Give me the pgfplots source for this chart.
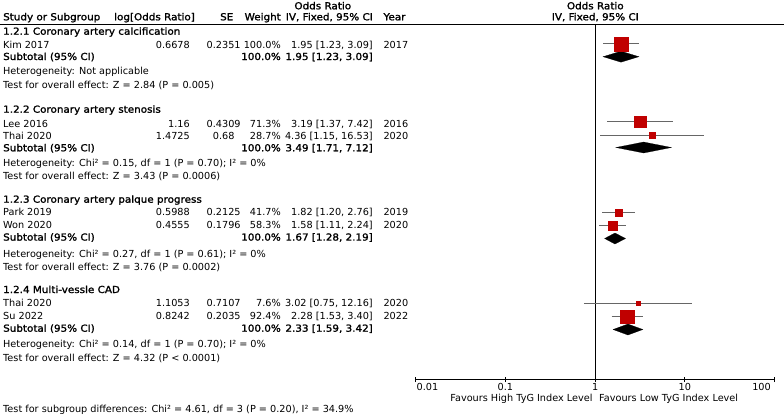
\documentclass[border=0pt]{standalone}
\usepackage{pgfplots}
\pgfplotsset{compat=1.18}
\usepackage{fontspec}
\setmainfont{DejaVu Sans}[BoldFont={DejaVu Sans}, BoldFeatures={FakeBold=1.6, FakeStretch=1.07}]
\definecolor{sqred}{RGB}{192,0,0}
\begin{document}
\fontsize{9.7}{11}\selectfont
\begin{tikzpicture}
\path[use as bounding box] (0pt,0pt) rectangle (784pt,-415pt);
\begin{axis}[at={(415.7pt,0pt)}, anchor=north west, scale only axis,
  width=358.6pt, height=379.5pt,
  xmode=log, xmin=0.01, xmax=100, ymin=0, ymax=379.5, y dir=reverse,
  axis x line=bottom, axis y line=none, axis line style={-, black, line width=0.6pt},
  xtick={0.01,0.1,1,10,100}, xticklabels={}, xminorticks=false,
  tick align=center, major tick length=5pt, tick style={black, line width=0.6pt},
  clip=false]
% line of no effect
\addplot[black, line width=0.6pt] coordinates {(1,24) (1,379.5)};
% confidence intervals
\addplot[black!60, line width=0.7pt] coordinates {(1.23,43.7) (3.09,43.7)};
\addplot[black!60, line width=0.7pt] coordinates {(1.37,121.7) (7.42,121.7)};
\addplot[black!60, line width=0.7pt] coordinates {(1.15,135) (16.53,135)};
\addplot[black!60, line width=0.7pt] coordinates {(1.20,212.3) (2.76,212.3)};
\addplot[black!60, line width=0.7pt] coordinates {(1.11,225.7) (2.24,225.7)};
\addplot[black!60, line width=0.7pt] coordinates {(0.75,303.3) (12.16,303.3)};
\addplot[black!60, line width=0.7pt] coordinates {(1.53,316.7) (3.40,316.7)};
% study squares (size ~ weight)
\addplot[only marks, mark=square*, mark size=7pt, sqred, mark options={draw=none, fill=sqred}] coordinates {(1.95,43.7)};
\addplot[only marks, mark=square*, mark size=5.8pt, sqred, mark options={draw=none, fill=sqred}] coordinates {(3.19,121.7)};
\addplot[only marks, mark=square*, mark size=2.7pt, sqred, mark options={draw=none, fill=sqred}] coordinates {(4.36,135)};
\addplot[only marks, mark=square*, mark size=3.4pt, sqred, mark options={draw=none, fill=sqred}] coordinates {(1.82,212.3)};
\addplot[only marks, mark=square*, mark size=4.7pt, sqred, mark options={draw=none, fill=sqred}] coordinates {(1.58,225.7)};
\addplot[only marks, mark=square*, mark size=1.7pt, sqred, mark options={draw=none, fill=sqred}] coordinates {(3.02,303.3)};
\addplot[only marks, mark=square*, mark size=6.8pt, sqred, mark options={draw=none, fill=sqred}] coordinates {(2.28,316.7)};
% subtotal diamonds
\addplot[fill=black, draw=black, line width=0.2pt] coordinates {(1.23,56.7) (1.95,51.2) (3.09,56.7) (1.95,62.2)} --cycle;
\addplot[fill=black, draw=black, line width=0.2pt] coordinates {(1.71,147.5) (3.49,142) (7.12,147.5) (3.49,153)} --cycle;
\addplot[fill=black, draw=black, line width=0.2pt] coordinates {(1.28,238.5) (1.67,233) (2.19,238.5) (1.67,244)} --cycle;
\addplot[fill=black, draw=black, line width=0.2pt] coordinates {(1.59,329.5) (2.33,324) (3.42,329.5) (2.33,335)} --cycle;
\end{axis}
\begin{scope}[x=1pt,y=-1pt]
% header
\draw[black, line width=0.6pt] (0,24) -- (784,24);
\node[anchor=base, inner sep=0] at (322.8,9.3) {\bfseries Odds Ratio};
\node[anchor=base west, inner sep=0] at (3,20.3) {\bfseries Study or Subgroup};
\node[anchor=base east, inner sep=0] at (195,20.3) {\bfseries log[Odds Ratio]};
\node[anchor=base east, inner sep=0] at (233.5,20.3) {\bfseries SE};
\node[anchor=base east, inner sep=0] at (281,20.3) {\bfseries Weight};
\node[anchor=base east, inner sep=0] at (373,20.3) {\bfseries IV, Fixed, 95\% CI};
\node[anchor=base west, inner sep=0] at (383.3,20.3) {\bfseries Year};
\node[anchor=base, inner sep=0] at (595.3,9.3) {\bfseries Odds Ratio};
\node[anchor=base, inner sep=0] at (595.3,20.3) {\bfseries IV, Fixed, 95\% CI};
% 1.2.1
\node[anchor=base west, inner sep=0] at (3,34.7) {\bfseries 1.2.1 Coronary artery calcification};
\node[anchor=base west, inner sep=0] at (3,48.3) {Kim 2017};
\node[anchor=base east, inner sep=0] at (190,48.3) {0.6678};
\node[anchor=base, inner sep=0] at (223.7,48.3) {0.2351};
\node[anchor=base east, inner sep=0] at (281,48.3) {100.0\%};
\node[anchor=base east, inner sep=0] at (373,48.3) {1.95 [1.23, 3.09]};
\node[anchor=base west, inner sep=0] at (383.3,48.3) {2017};
\node[anchor=base west, inner sep=0] at (3,60) {\bfseries Subtotal (95\% CI)};
\node[anchor=base east, inner sep=0] at (281,60) {\bfseries 100.0\%};
\node[anchor=base east, inner sep=0] at (373,60) {\bfseries 1.95 [1.23, 3.09]};
\node[anchor=base west, inner sep=0] at (3,74.7) {Heterogeneity: Not applicable};
\node[anchor=base west, inner sep=0] at (3,88.7) {Test for overall effect: Z = 2.84 (P = 0.005)};
% 1.2.2
\node[anchor=base west, inner sep=0] at (3,112.7) {\bfseries 1.2.2 Coronary artery stenosis};
\node[anchor=base west, inner sep=0] at (3,127.7) {Lee 2016};
\node[anchor=base east, inner sep=0] at (190,127.7) {1.16};
\node[anchor=base, inner sep=0] at (223.7,127.7) {0.4309};
\node[anchor=base east, inner sep=0] at (281,127.7) {71.3\%};
\node[anchor=base east, inner sep=0] at (373,127.7) {3.19 [1.37, 7.42]};
\node[anchor=base west, inner sep=0] at (383.3,127.7) {2016};
\node[anchor=base west, inner sep=0] at (3,139.5) {Thai 2020};
\node[anchor=base east, inner sep=0] at (190,139.5) {1.4725};
\node[anchor=base, inner sep=0] at (223.7,139.5) {0.68};
\node[anchor=base east, inner sep=0] at (281,139.5) {28.7\%};
\node[anchor=base east, inner sep=0] at (373,139.5) {4.36 [1.15, 16.53]};
\node[anchor=base west, inner sep=0] at (383.3,139.5) {2020};
\node[anchor=base west, inner sep=0] at (3,151.3) {\bfseries Subtotal (95\% CI)};
\node[anchor=base east, inner sep=0] at (281,151.3) {\bfseries 100.0\%};
\node[anchor=base east, inner sep=0] at (373,151.3) {\bfseries 3.49 [1.71, 7.12]};
\node[anchor=base west, inner sep=0] at (3,166) {Heterogeneity: Chi² = 0.15, df = 1 (P = 0.70); I² = 0\%};
\node[anchor=base west, inner sep=0] at (3,179.5) {Test for overall effect: Z = 3.43 (P = 0.0006)};
% 1.2.3
\node[anchor=base west, inner sep=0] at (3,202.7) {\bfseries 1.2.3 Coronary artery palque progress};
\node[anchor=base west, inner sep=0] at (3,215.7) {Park 2019};
\node[anchor=base east, inner sep=0] at (190,215.7) {0.5988};
\node[anchor=base, inner sep=0] at (223.7,215.7) {0.2125};
\node[anchor=base east, inner sep=0] at (281,215.7) {41.7\%};
\node[anchor=base east, inner sep=0] at (373,215.7) {1.82 [1.20, 2.76]};
\node[anchor=base west, inner sep=0] at (383.3,215.7) {2019};
\node[anchor=base west, inner sep=0] at (3,228.9) {Won 2020};
\node[anchor=base east, inner sep=0] at (190,228.9) {0.4555};
\node[anchor=base, inner sep=0] at (223.7,228.9) {0.1796};
\node[anchor=base east, inner sep=0] at (281,228.9) {58.3\%};
\node[anchor=base east, inner sep=0] at (373,228.9) {1.58 [1.11, 2.24]};
\node[anchor=base west, inner sep=0] at (383.3,228.9) {2020};
\node[anchor=base west, inner sep=0] at (3,240.6) {\bfseries Subtotal (95\% CI)};
\node[anchor=base east, inner sep=0] at (281,240.6) {\bfseries 100.0\%};
\node[anchor=base east, inner sep=0] at (373,240.6) {\bfseries 1.67 [1.28, 2.19]};
\node[anchor=base west, inner sep=0] at (3,257) {Heterogeneity: Chi² = 0.27, df = 1 (P = 0.61); I² = 0\%};
\node[anchor=base west, inner sep=0] at (3,270.5) {Test for overall effect: Z = 3.76 (P = 0.0002)};
% 1.2.4
\node[anchor=base west, inner sep=0] at (3,293) {\bfseries 1.2.4 Multi-vessle CAD};
\node[anchor=base west, inner sep=0] at (3,306.7) {Thai 2020};
\node[anchor=base east, inner sep=0] at (190,306.7) {1.1053};
\node[anchor=base, inner sep=0] at (223.7,306.7) {0.7107};
\node[anchor=base east, inner sep=0] at (281,306.7) {7.6\%};
\node[anchor=base east, inner sep=0] at (373,306.7) {3.02 [0.75, 12.16]};
\node[anchor=base west, inner sep=0] at (383.3,306.7) {2020};
\node[anchor=base west, inner sep=0] at (3,319.7) {Su 2022};
\node[anchor=base east, inner sep=0] at (190,319.7) {0.8242};
\node[anchor=base, inner sep=0] at (223.7,319.7) {0.2035};
\node[anchor=base east, inner sep=0] at (281,319.7) {92.4\%};
\node[anchor=base east, inner sep=0] at (373,319.7) {2.28 [1.53, 3.40]};
\node[anchor=base west, inner sep=0] at (383.3,319.7) {2022};
\node[anchor=base west, inner sep=0] at (3,331.7) {\bfseries Subtotal (95\% CI)};
\node[anchor=base east, inner sep=0] at (281,331.7) {\bfseries 100.0\%};
\node[anchor=base east, inner sep=0] at (373,331.7) {\bfseries 2.33 [1.59, 3.42]};
\node[anchor=base west, inner sep=0] at (3,347.5) {Heterogeneity: Chi² = 0.14, df = 1 (P = 0.70); I² = 0\%};
\node[anchor=base west, inner sep=0] at (3,361) {Test for overall effect: Z = 4.32 (P < 0.0001)};
% axis labels
\node[anchor=base west, inner sep=0] at (416.5,390.5) {0.01};
\node[anchor=base, inner sep=0] at (505.3,390.5) {0.1};
\node[anchor=base, inner sep=0] at (595.3,390.5) {1};
\node[anchor=base, inner sep=0] at (684.9,390.5) {10};
\node[anchor=base east, inner sep=0] at (771,390.5) {100};
\node[anchor=base east, inner sep=0] at (592.7,401.5) {Favours High TyG Index Level};
\node[anchor=base west, inner sep=0] at (599,401.5) {Favours Low TyG Index Level};
\node[anchor=base west, inner sep=0] at (3,412.5) {Test for subgroup differences: Chi² = 4.61, df = 3 (P = 0.20), I² = 34.9\%};
\end{scope}
\end{tikzpicture}
\end{document}
